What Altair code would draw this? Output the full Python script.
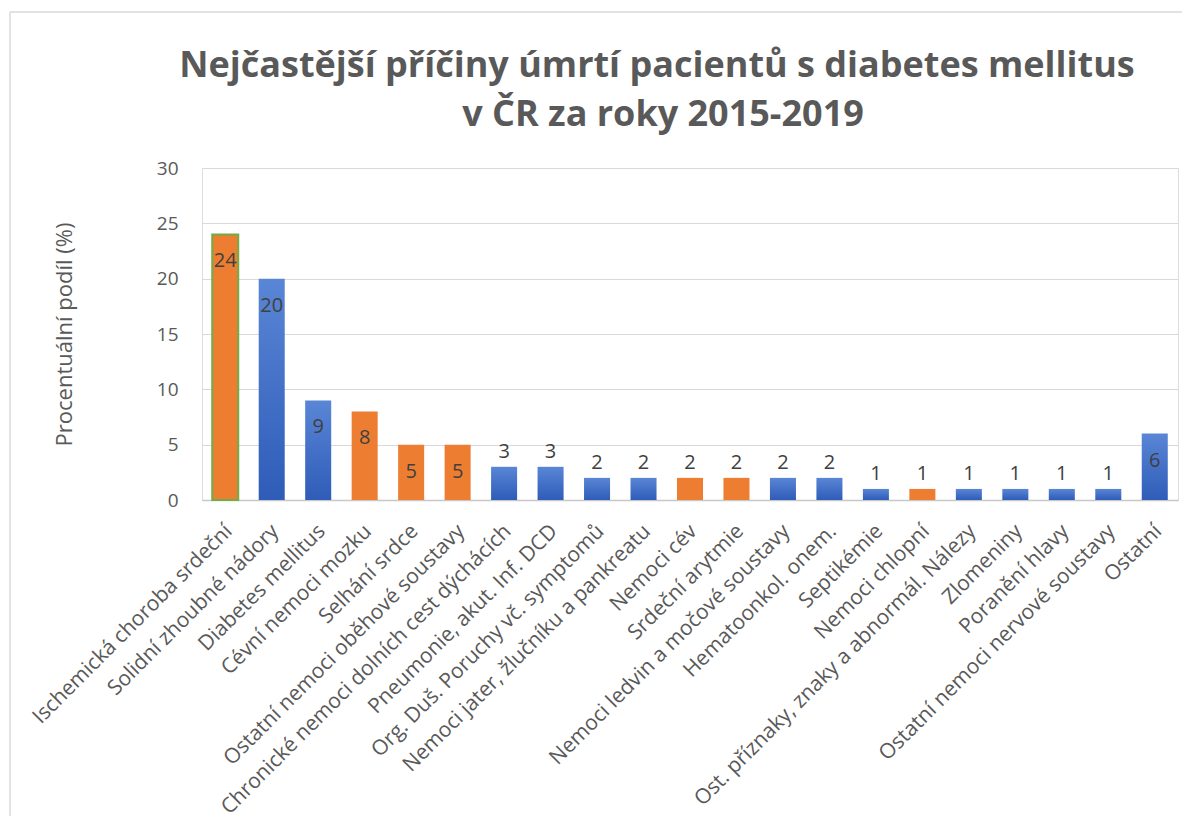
import altair as alt
import pandas as pd

categories = [
    "Ischemická choroba srdeční",
    "Solidní zhoubné nádory",
    "Diabetes mellitus",
    "Cévní nemoci mozku",
    "Selhání srdce",
    "Ostatní nemoci oběhové soustavy",
    "Chronické nemoci dolních cest dýchácích",
    "Pneumonie, akut. Inf. DCD",
    "Org. Duš. Poruchy vč. symptomů",
    "Nemoci jater, žlučníku a pankreatu",
    "Nemoci cév",
    "Srdeční arytmie",
    "Nemoci ledvin a močové soustavy",
    "Hematoonkol. onem.",
    "Septikémie",
    "Nemoci chlopní",
    "Ost. příznaky, znaky a abnormál. Nálezy",
    "Zlomeniny",
    "Poranění hlavy",
    "Ostatní nemoci nervové soustavy",
    "Ostatní",
]
values = [24, 20, 9, 8, 5, 5, 3, 3, 2, 2, 2, 2, 2, 2, 1, 1, 1, 1, 1, 1, 6]
groups = ["o", "b", "b", "o", "o", "o", "b", "b", "b", "b", "o", "o", "b", "b", "b", "o", "b", "b", "b", "b", "b"]
highlight = [1] + [0] * 20
y_ticks = [0, 5, 10, 15, 20, 25, 30]
title_line1 = "Nejčastější příčiny úmrtí pacientů s diabetes mellitus"
title_line2 = "v ČR za roky 2015-2019"
y_title = "Procentuální podíl (%)"

df = pd.DataFrame({"cat": categories, "val": values, "grp": groups, "hl": highlight})

FONT = "Open Sans"
TXT = "#595959"

x_enc = alt.X(
    "cat:N",
    sort=categories,
    title=None,
    scale=alt.Scale(domain=categories, paddingInner=0.44, paddingOuter=0.22),
    axis=alt.Axis(
        labelAngle=-45,
        labelFontSize=21,
        labelColor=TXT,
        labelFont=FONT,
        ticks=False,
        domainColor="#C8C8C8",
        domainWidth=1.5,
        labelPadding=20,
        labelOffset=-4,
        labelLimit=500,
    ),
)
y_enc = alt.Y(
    "val:Q",
    title=y_title,
    scale=alt.Scale(domain=[0, 30]),
    axis=alt.Axis(
        values=y_ticks,
        labelFontSize=19,
        labelColor=TXT,
        labelFont=FONT,
        ticks=False,
        domain=False,
        gridColor="#D9D9D9",
        gridWidth=1.2,
        labelPadding=24,
        titleFontSize=22,
        titleFont=FONT,
        titleColor=TXT,
        titleFontWeight="normal",
        titlePadding=80,
    ),
)

base = alt.Chart(df)

blue_grad = alt.LinearGradient(
    gradient="linear",
    stops=[
        alt.GradientStop(color="#5A86D6", offset=0),
        alt.GradientStop(color="#2E5CB8", offset=1),
    ],
    x1=0, x2=0, y1=0, y2=1,
)

bars_blue = base.transform_filter(alt.datum.grp == "b").mark_bar(color=blue_grad).encode(x=x_enc, y=y_enc)
bars_orange = base.transform_filter(alt.datum.grp == "o").mark_bar(color="#ED7D31").encode(x=x_enc, y=y_enc)
bars_hl = base.transform_filter(alt.datum.hl == 1).mark_bar(
    fill="#ED7D31", stroke="#70AD47", strokeWidth=2
).encode(x=x_enc, y=y_enc)

lab_in = base.transform_filter(alt.datum.val >= 5).mark_text(
    fontSize=20, font=FONT, color="#404040", baseline="middle", dy=27
).encode(x=x_enc, y=y_enc, text="val:Q")
lab_out = base.transform_filter(alt.datum.val < 5).mark_text(
    fontSize=20, font=FONT, color="#404040", baseline="middle", dy=-15
).encode(x=x_enc, y=y_enc, text="val:Q")

one = alt.Chart(pd.DataFrame({"t1": [title_line1], "t2": [title_line2]}))

# light frame of the chart area (left and top edges)
frame_left = one.mark_rule(color="#D9D9D9", strokeWidth=1.5).encode(
    x=alt.value(-192), y=alt.value(-156), y2=alt.value(648)
)
frame_top = one.mark_rule(color="#D9D9D9", strokeWidth=1.5).encode(
    x=alt.value(-192), x2=alt.value(980), y=alt.value(-156)
)

title1 = one.mark_text(
    font=FONT, fontSize=36, fontWeight="bold", color=TXT, align="center", baseline="alphabetic"
).encode(text="t1:N", x=alt.value(455), y=alt.value(-91))
title2 = one.mark_text(
    font=FONT, fontSize=36, fontWeight="bold", color=TXT, align="center", baseline="alphabetic"
).encode(text="t2:N", x=alt.value(461), y=alt.value(-42))

chart = alt.layer(
    frame_left, frame_top, title1, title2, bars_blue, bars_orange, bars_hl, lab_in, lab_out
).properties(
    width=976,
    height=332,
    padding={"left": 1, "top": 3, "right": 0, "bottom": 2},
).configure_view(strokeWidth=0).configure(background="white")

chart.save("out.html", embed_options={"renderer": "svg", "actions": False})
